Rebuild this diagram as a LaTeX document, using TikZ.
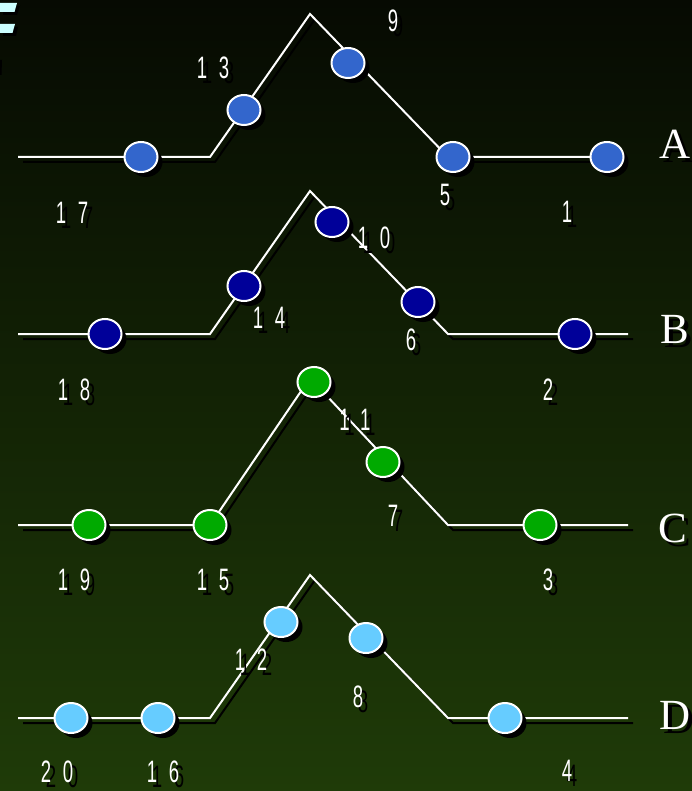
\documentclass[tikz,border=0pt]{standalone}
\usepackage{fontspec}
\setmainfont{Liberation Serif}
\newfontfamily\numfont[FakeStretch=0.6,LetterSpace=38]{Liberation Sans}
\usetikzlibrary{shapes.geometric,shadows,calc}
\definecolor{bgtop}{RGB}{6,10,2}
\definecolor{bgbot}{RGB}{31,59,8}
\definecolor{cA}{RGB}{51,102,204}
\definecolor{cB}{RGB}{0,0,153}
\definecolor{cC}{RGB}{0,170,0}
\definecolor{cD}{RGB}{102,204,255}
\definecolor{logoc}{RGB}{204,255,255}
\tikzset{
  wire/.style={white,line width=2pt},
  wireshadow/.style={black,line width=2pt,transform canvas={xshift=5pt,yshift=-5pt}},
  dot/.style={ellipse,draw=white,line width=2pt,minimum width=33pt,minimum height=30pt,inner sep=0pt,
    drop shadow={shadow xshift=5pt,shadow yshift=-5pt,opacity=1,fill=black}},
  dotA/.style={dot,fill=cA},
  dotB/.style={dot,fill=cB},
  dotC/.style={dot,fill=cC},
  dotD/.style={dot,fill=cD},
  numtxt/.style={font=\numfont\fontsize{31}{31}\selectfont,inner sep=0pt},
  num/.style={numtxt,text=white},
  numsh/.style={numtxt,text=black},
  rowtxt/.style={font=\fontsize{43}{43}\selectfont,inner sep=0pt,anchor=base},
  row/.style={rowtxt,text=white},
  rowsh/.style={rowtxt,text=black}
}
\newcommand\shlabel[4]{%
  \node[numsh] (#1s) at (#2+5,#3+5) {#4};
  \node[num] (#1) at (#2,#3) {#4};}
\newcommand\rowlabel[4]{%
  \node[rowsh] (#1s) at (#2+4,#3+4) {#4};
  \node[row] (#1) at (#2,#3) {#4};}
\begin{document}
\begin{tikzpicture}[x=1pt,y=-1pt]
\useasboundingbox (0,0) rectangle (692,791);
\shade[top color=bgtop,bottom color=bgbot] (0,0) rectangle (692,791);

% logo fragment
\fill[black] (0,60) -- (2,60) -- (1.5,75) -- (0,75) -- cycle;
\fill[black] (3,6) -- (20,6) -- (17,15) -- (3,15) -- cycle;
\fill[black] (3,27) -- (18,27) -- (16,36) -- (3,36) -- cycle;
\fill[logoc] (0,3) -- (17,3) -- (14.5,12) -- (0,12) -- cycle;
\fill[logoc] (0,24) -- (15,24) -- (12.5,33) -- (0,33) -- cycle;

% corner coordinates
\coordinate (A0) at (18,157); \coordinate (A1) at (210,157); \coordinate (A2) at (310,14);
\coordinate (A3) at (448,157); \coordinate (A4) at (605,157);
\coordinate (B0) at (18,334); \coordinate (B1) at (210,334); \coordinate (B2) at (310,191);
\coordinate (B3) at (448,334); \coordinate (B4) at (628,334);
\coordinate (C0) at (18,525); \coordinate (C1) at (210,525); \coordinate (C2) at (310,378);
\coordinate (C3) at (448,525); \coordinate (C4) at (628,525);
\coordinate (D0) at (18,718); \coordinate (D1) at (210,718); \coordinate (D2) at (310,575);
\coordinate (D3) at (448,718); \coordinate (D4) at (628,718);

% line shadows
\foreach \r in {A,B,C,D}
  \draw[wireshadow] (\r0) -- (\r1) -- (\r2) -- (\r3) -- (\r4);
% lines
\foreach \r in {A,B,C,D}
  \draw[wire] (\r0) -- (\r1) -- (\r2) -- (\r3) -- (\r4);

% dots row A
\node[dotA] (n17) at (141,157) {};
\node[dotA] (n13) at (244,110) {};
\node[dotA] (n9) at (348,63) {};
\node[dotA] (n5) at (453,157) {};
\node[dotA] (n1) at (607,157) {};
% row B
\node[dotB] (n18) at (105,334) {};
\node[dotB] (n14) at (244,286) {};
\node[dotB] (n10) at (332,222) {};
\node[dotB] (n6) at (418,302) {};
\node[dotB] (n2) at (575,334) {};
% row C
\node[dotC] (n19) at (89,525) {};
\node[dotC] (n15) at (210,525) {};
\node[dotC] (n11) at (314,382) {};
\node[dotC] (n7) at (383,462) {};
\node[dotC] (n3) at (540,525) {};
% row D
\node[dotD] (n20) at (71,718) {};
\node[dotD] (n16) at (158,718) {};
\node[dotD] (n12) at (281,622) {};
\node[dotD] (n8) at (366,638) {};
\node[dotD] (n4) at (505,718) {};

% number labels
\shlabel{l17}{72}{213}{17}
\shlabel{l13}{213}{68}{13}
\shlabel{l9}{393}{21}{9}
\shlabel{l5}{445}{195}{5}
\shlabel{l1}{567}{212}{1}
\shlabel{l18}{74}{390}{18}
\shlabel{l14}{269}{318}{14}
\shlabel{l10}{374}{238}{10}
\shlabel{l6}{411}{340}{6}
\shlabel{l2}{548}{390}{2}
\shlabel{l19}{74}{580}{19}
\shlabel{l15}{213}{580}{15}
\shlabel{l11}{355}{420}{11}
\shlabel{l7}{393}{516}{7}
\shlabel{l3}{548}{580}{3}
\shlabel{l20}{57}{772}{20}
\shlabel{l16}{163}{772}{16}
\shlabel{l12}{251}{660}{12}
\shlabel{l8}{358}{697}{8}
\shlabel{l4}{567}{771}{4}

% row letters
\rowlabel{rA}{675}{159}{A}
\rowlabel{rB}{675}{343}{B}
\rowlabel{rC}{673}{542}{C}
\rowlabel{rD}{675}{729}{D}
\end{tikzpicture}
\end{document}
